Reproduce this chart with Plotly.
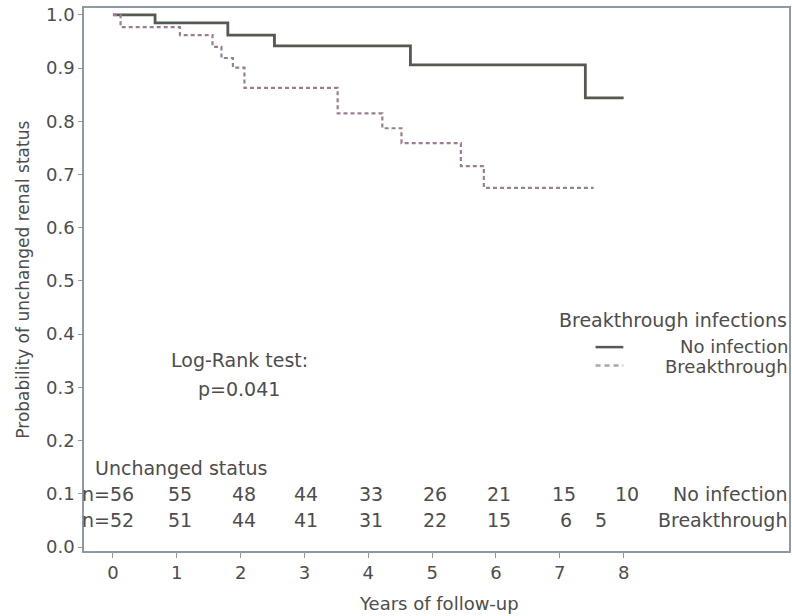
import plotly.graph_objects as go

# ---- data ----
years_ticks = [0, 1, 2, 3, 4, 5, 6, 7, 8]
y_ticks = [0.0, 0.1, 0.2, 0.3, 0.4, 0.5, 0.6, 0.7, 0.8, 0.9, 1.0]

no_inf_time = [0, 0.66, 1.80, 2.53, 4.66, 7.40, 8.00]
no_inf_surv = [1.0, 0.985, 0.962, 0.942, 0.906, 0.844, 0.844]

brk_time = [0, 0.12, 1.05, 1.56, 1.70, 1.88, 2.06, 3.52, 4.22, 4.52, 5.45, 5.81, 7.53]
brk_surv = [1.0, 0.977, 0.962, 0.940, 0.919, 0.901, 0.863, 0.815, 0.787, 0.759, 0.716, 0.675, 0.675]

risk_no_inf = ["n=56", "55", "48", "44", "33", "26", "21", "15", "10"]
risk_no_inf_x = [-0.08, 1.05, 2.05, 3.02, 4.05, 5.05, 6.05, 7.07, 8.05]
risk_brk = ["n=52", "51", "44", "41", "31", "22", "15", "6", "5"]
risk_brk_x = [-0.08, 1.05, 2.05, 3.02, 4.05, 5.05, 6.05, 7.09, 7.64]

series_names = ["No infection", "Breakthrough"]
legend_title = "Breakthrough infections"

# ---- style ----
FONT = "DejaVu Sans"
TXT = "#4d4d4d"
AX = "#8f9aa0"
SOLID = "#555a50"
DASHC = "#9a7f92"
FS_IN = 19
FS_AX = 18

fig = go.Figure()
fig.add_trace(go.Scatter(x=no_inf_time, y=no_inf_surv, mode="lines", line_shape="hv",
                         line=dict(color=SOLID, width=2.8), name=series_names[0], showlegend=False))
fig.add_trace(go.Scatter(x=brk_time, y=brk_surv, mode="lines", line_shape="hv",
                         line=dict(color=DASHC, width=2.2, dash="4px,3px"), name=series_names[1],
                         showlegend=False))

ann = []
for t, x in zip(risk_no_inf, risk_no_inf_x):
    ann.append(dict(x=x, y=0.099, xref="x", yref="y", text=t, showarrow=False,
                    xanchor="center", yanchor="middle", font=dict(size=FS_IN)))
for t, x in zip(risk_brk, risk_brk_x):
    ann.append(dict(x=x, y=0.051, xref="x", yref="y", text=t, showarrow=False,
                    xanchor="center", yanchor="middle", font=dict(size=FS_IN)))
ann.append(dict(x=1.0, y=0.099, xref="paper", yref="y", text=series_names[0], showarrow=False,
                xanchor="right", yanchor="middle", font=dict(size=FS_IN)))
ann.append(dict(x=1.0, y=0.051, xref="paper", yref="y", text=series_names[1], showarrow=False,
                xanchor="right", yanchor="middle", font=dict(size=FS_IN)))
ann.append(dict(x=-0.31, y=0.149, xref="x", yref="y", text="Unchanged status", showarrow=False,
                xanchor="left", yanchor="middle", font=dict(size=FS_IN)))
ann.append(dict(x=1.98, y=0.351, xref="x", yref="y", text="Log-Rank test:", showarrow=False,
                xanchor="center", yanchor="middle", font=dict(size=FS_IN)))
ann.append(dict(x=1.98, y=0.297, xref="x", yref="y", text="p=0.041", showarrow=False,
                xanchor="center", yanchor="middle", font=dict(size=FS_IN)))
# legend (custom)
ann.append(dict(x=1.0, y=0.4254, xref="paper", yref="paper", text=legend_title, showarrow=False,
                xanchor="right", yanchor="middle", font=dict(size=FS_IN)))
ann.append(dict(x=1.0, y=0.3775, xref="paper", yref="paper", text=series_names[0], showarrow=False,
                xanchor="right", yanchor="middle", font=dict(size=18), borderpad=0))
ann.append(dict(x=1.0, y=0.339, xref="paper", yref="paper", text=series_names[1], showarrow=False,
                xanchor="right", yanchor="middle", font=dict(size=18), borderpad=0))
# axis titles
ann.append(dict(x=-0.0877, y=0.5, xref="paper", yref="paper", text="Probability of unchanged renal status",
                showarrow=False, textangle=-90, xanchor="center", yanchor="middle", font=dict(size=17)))
ann.append(dict(x=0.503, y=-0.0958, xref="paper", yref="paper", text="Years of follow-up",
                showarrow=False, xanchor="center", yanchor="middle", font=dict(size=FS_AX)))

shapes = [
    dict(type="line", xref="paper", yref="paper", x0=0.7256, x1=0.765, y0=0.3755, y1=0.3755,
         line=dict(color=SOLID, width=2.5)),
    dict(type="line", xref="paper", yref="paper", x0=0.7256, x1=0.765, y0=0.3415, y1=0.3415,
         line=dict(color="#b0a0b4", width=2.5, dash="5px,4px")),
]

fig.update_layout(
    width=792, height=616,
    margin=dict(l=84, r=1, t=8, b=65),
    paper_bgcolor="white", plot_bgcolor="white",
    font=dict(family=FONT, color=TXT, size=FS_AX),
    annotations=ann, shapes=shapes, showlegend=False,
    xaxis=dict(range=[-0.453, 10.59], tickvals=years_ticks, ticktext=[str(v) for v in years_ticks],
               showgrid=False, zeroline=False, showline=True, linecolor=AX, linewidth=1.5,
               mirror=True, ticks="outside", ticklen=5, tickcolor=AX, tickfont=dict(size=FS_AX)),
    yaxis=dict(range=[-0.0075, 1.013], tickvals=y_ticks, ticktext=[f"{v:.1f}" for v in y_ticks],
               showgrid=False, zeroline=False, showline=True, linecolor=AX, linewidth=1.5,
               mirror=True, ticks="outside", ticklen=4, tickcolor=AX, tickfont=dict(size=FS_AX)),
)

fig.write_html("out.html", config={"displayModeBar": False},
               post_script="document.body.style.margin='0';document.body.style.overflow='hidden';")
